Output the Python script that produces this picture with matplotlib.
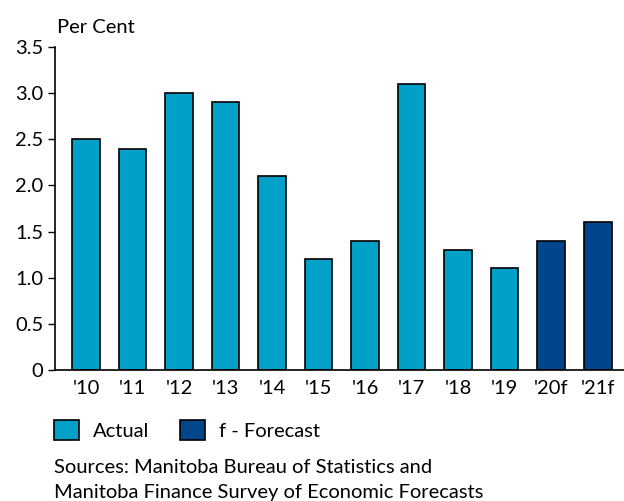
import matplotlib
matplotlib.use("Agg")
import matplotlib.pyplot as plt
from matplotlib.patches import Patch

years = ["'10", "'11", "'12", "'13", "'14", "'15", "'16", "'17", "'18", "'19", "'20f", "'21f"]
growth = [2.5, 2.4, 3.0, 2.9, 2.1, 1.2, 1.4, 3.1, 1.3, 1.1, 1.4, 1.6]
is_forecast = [False] * 10 + [True] * 2

ACTUAL = "#00A0C8"
FORECAST = "#00468B"

plt.rcParams["font.family"] = ["Lato", "DejaVu Sans"]
plt.rcParams["font.size"] = 14.5

fig = plt.figure(figsize=(6.24, 5.01), dpi=100)
ax = fig.add_axes([0.0881, 0.2615, 0.912, 0.6447])

colors = [FORECAST if f else ACTUAL for f in is_forecast]
x = list(range(len(years)))
ax.bar(x, growth, width=0.6, color=colors, edgecolor="black", linewidth=1.2)

ax.set_xlim(-0.667, 11.57)
ax.set_ylim(0, 3.5)
ax.set_yticks([0, 0.5, 1.0, 1.5, 2.0, 2.5, 3.0, 3.5])
ax.set_yticklabels(["0", "0.5", "1.0", "1.5", "2.0", "2.5", "3.0", "3.5"])
ax.set_xticks(x)
ax.set_xticklabels(years)
ax.tick_params(axis="x", length=0, pad=7)
ax.tick_params(axis="y", length=5, width=1, direction="out", pad=3.5)

for side in ["top", "right"]:
    ax.spines[side].set_visible(False)
ax.spines["left"].set_linewidth(1.2)
ax.spines["bottom"].set_linewidth(1.2)

fig.text(0.091, 0.934, "Per Cent", ha="left", va="baseline")

handles = [Patch(facecolor=ACTUAL, edgecolor="black", linewidth=1.2),
           Patch(facecolor=FORECAST, edgecolor="black", linewidth=1.2)]
fig.legend(handles, ["Actual", "f - Forecast"], loc="center left",
           bbox_to_anchor=(0.0865, 0.1417), ncol=2, frameon=False,
           handlelength=1.25, handleheight=1.15, handletextpad=0.7,
           columnspacing=1.5, borderaxespad=0, borderpad=0)

fig.text(0.0865, 0.0559, "Sources: Manitoba Bureau of Statistics and", ha="left", va="baseline")
fig.text(0.0865, 0.006, "Manitoba Finance Survey of Economic Forecasts", ha="left", va="baseline")

fig.savefig("out.png", dpi=100)
